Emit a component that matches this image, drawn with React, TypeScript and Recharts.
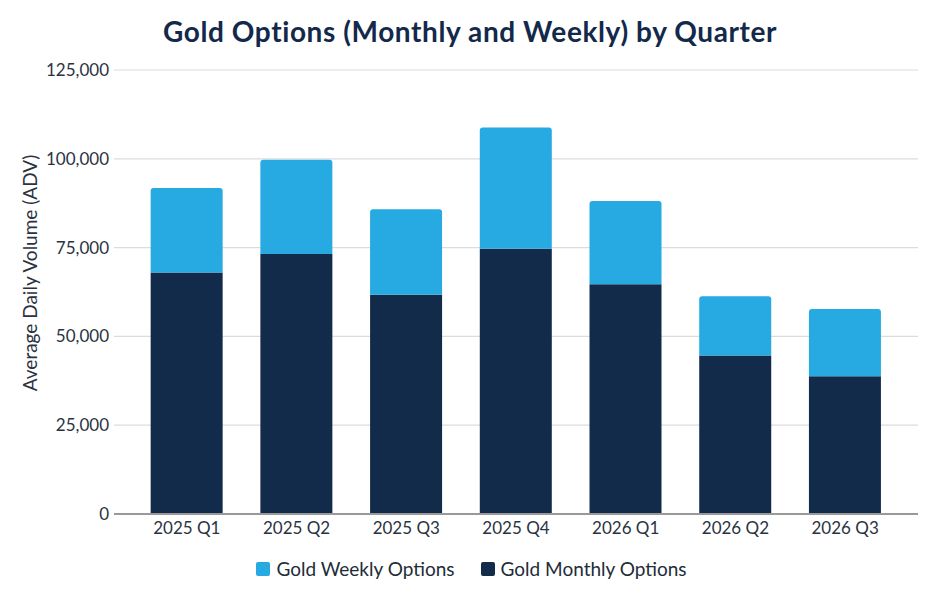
import React from 'react';
import { BarChart, Bar, XAxis, YAxis, CartesianGrid, Legend } from 'recharts';

const quarters = ['2025 Q1', '2025 Q2', '2025 Q3', '2025 Q4', '2026 Q1', '2026 Q2', '2026 Q3'];
const monthly = [68000, 73200, 61700, 74700, 64700, 44600, 38800];
const weekly = [23800, 26500, 24100, 34100, 23400, 16700, 18900];
const yTicks = [0, 25000, 50000, 75000, 100000, 125000];

const WEEKLY_COLOR = '#27a9e1';
const MONTHLY_COLOR = '#132b4b';
const FONT = 'Lato, "Open Sans", sans-serif';

const data = quarters.map((q, i) => ({ quarter: q, monthly: monthly[i], weekly: weekly[i] }));

const legendItems = [
  { label: 'Gold Weekly Options', color: WEEKLY_COLOR },
  { label: 'Gold Monthly Options', color: MONTHLY_COLOR },
];

const CustomLegend = () => (
  <div style={{ display: 'flex', justifyContent: 'center', gap: 26, fontFamily: FONT, fontSize: 19, lineHeight: '22px', color: '#222b38' }}>
    {legendItems.map((it) => (
      <div key={it.label} style={{ display: 'flex', alignItems: 'center' }}>
        <span style={{ display: 'inline-block', width: 14, height: 14, borderRadius: 2, background: it.color, marginRight: 6 }} />
        <span>{it.label}</span>
      </div>
    ))}
  </div>
);

const YLabel = (props: any) => {
  const vb = props.viewBox || { x: 0, y: 0, width: 0, height: 0 };
  const cx = vb.x + 5;
  const cy = vb.y + vb.height / 2 - 19;
  return (
    <text
      x={cx}
      y={cy}
      transform={`rotate(-90, ${cx}, ${cy})`}
      textAnchor="middle"
      dy="0.36em"
      fill="#2b3340"
      fontSize={19}
      fontFamily={FONT}
    >
      Average Daily Volume (ADV)
    </text>
  );
};

export default function App() {
  return (
    <div style={{ position: 'absolute', left: 0, top: 0, width: 940, height: 601, background: '#fff' }}>
      <div style={{ position: 'absolute', left: 0, top: 14, width: 940, textAlign: 'center', fontFamily: FONT, fontWeight: 700, fontSize: 28, letterSpacing: 0.6, color: '#13294b' }}>
        Gold Options (Monthly and Weekly) by Quarter
      </div>
      <BarChart width={940} height={601} data={data} margin={{ top: 70, right: 22, bottom: 35, left: 25 }} barCategoryGap="17%">
        <CartesianGrid vertical={false} stroke="#dcdcdc" strokeWidth={1.2} />
        <XAxis
          dataKey="quarter"
          padding={{ left: 18, right: 18 }}
          tickLine={false}
          axisLine={{ stroke: '#999', strokeWidth: 2 }}
          tick={{ fill: '#2b3340', fontSize: 17, fontFamily: FONT }}
          height={30}
        />
        <YAxis
          width={89}
          ticks={yTicks}
          domain={[0, 125000]}
          tickLine={false}
          tickSize={0}
          tickMargin={5}
          axisLine={false}
          tick={{ fill: '#2b3340', fontSize: 17, fontFamily: FONT }}
          tickFormatter={(v: number) => v.toLocaleString('en-US')}
          label={<YLabel />}
        />
        <Legend verticalAlign="bottom" content={<CustomLegend />} wrapperStyle={{ bottom: 21 }} />
        <Bar dataKey="monthly" stackId="a" fill={MONTHLY_COLOR} isAnimationActive={false} />
        <Bar dataKey="weekly" stackId="a" fill={WEEKLY_COLOR} radius={[3, 3, 0, 0]} isAnimationActive={false} />
      </BarChart>
    </div>
  );
}
